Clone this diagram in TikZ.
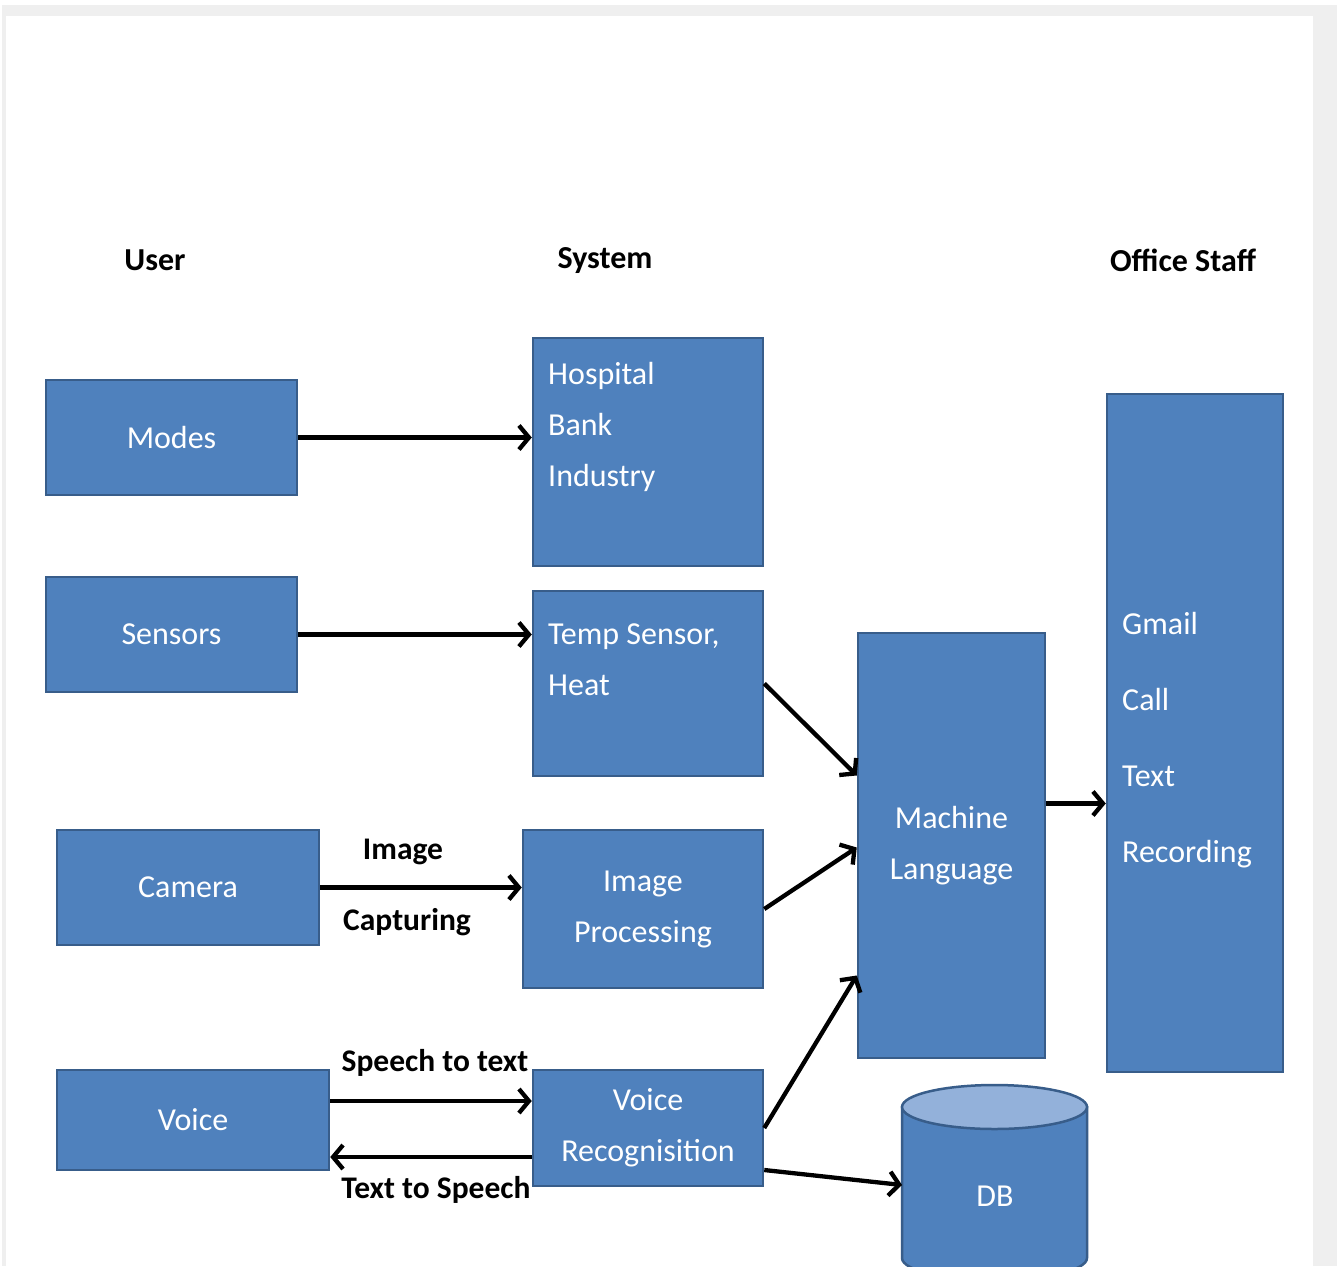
\documentclass[tikz,border=0pt]{standalone}
\usepackage{fontspec}
\setmainfont{Carlito}
\usetikzlibrary{arrows.meta}
\definecolor{boxfill}{HTML}{4F81BD}
\definecolor{boxline}{HTML}{385D8A}
\definecolor{dbtop}{HTML}{93B1DA}
\definecolor{framegray}{HTML}{EFEFEF}
\tikzset{
  blockbox/.style={draw=boxline, fill=boxfill, line width=2.5pt, inner sep=0pt,
    text=white, font=\fontsize{32}{51}\selectfont, align=center},
  boxtext/.style={text=white, font=\fontsize{32}{51}\selectfont, align=left, inner sep=0pt, anchor=west},
  header/.style={font=\fontsize{32}{36}\selectfont\bfseries, text=black, inner sep=0pt},
  edgelabel/.style={font=\fontsize{31.5}{36}\selectfont\bfseries, text=black, inner sep=0pt},
  conn/.style={line width=4.3pt, -{Straight Barb[length=10pt,width=24pt]}}
}
\begin{document}
\begin{tikzpicture}[x=1pt,y=-1pt]
\useasboundingbox (0,0) rectangle (1337,1266);
\clip (0,0) rectangle (1337,1266);
\fill[white] (0,0) rectangle (1337,1266);
\fill[framegray] (2,5) rectangle (1337,1266);
\fill[white] (6,16) rectangle (1313,1266);

% headers
\node[header] (huser) at (155,260) {User};
\node[header] (hsys) at (605,261) {System};
\node[header] (hoff) at (1183,260) {Office Staff};

% user column
\node[blockbox, minimum width=251pt, minimum height=115pt] (modes) at (171.5,437.5) {Modes};
\node[blockbox, minimum width=251pt, minimum height=115pt] (sensors) at (171.5,634.5) {Sensors};
\node[blockbox, minimum width=262pt, minimum height=115pt] (camera) at (188,887.5) {Camera};
\node[blockbox, minimum width=272pt, minimum height=100pt] (voice) at (193,1120) {Voice};

% system column
\node[blockbox, minimum width=230pt, minimum height=228pt] (hosp) at (648,452) {};
\node[boxtext] (hosptext) at (548,427) {Hospital\\Bank\\Industry};
\node[blockbox, minimum width=230pt, minimum height=185pt] (temp) at (648,683.5) {};
\node[boxtext] (temptext) at (548,660) {Temp Sensor,\\Heat};
\node[blockbox, minimum width=240pt, minimum height=158pt] (imgp) at (643,909) {Image\\Processing};
\node[blockbox, minimum width=230pt, minimum height=116pt] (vr) at (648,1128) {Voice\\Recognisition};

% machine language
\node[blockbox, minimum width=187pt, minimum height=425pt] (ml) at (951.5,845.5) {Machine\\Language};

% office staff
\node[blockbox, minimum width=176pt, minimum height=678pt] (office) at (1195,733) {};
\node[boxtext, font=\fontsize{32}{76}\selectfont] (officetext) at (1122,740) {Gmail\\Call\\Text\\Recording};

% DB cylinder
\fill[boxfill, draw=boxline, line width=2.5pt] (902,1107) -- (902,1258) arc (180:360:92.5pt and 22pt) -- (1087,1107) -- cycle;
\draw[boxline, fill=dbtop, line width=2.5pt] (994.5,1107) ellipse [x radius=92.5pt, y radius=22pt];
\node[text=white, font=\fontsize{32}{36}\selectfont, inner sep=0pt] (db) at (995,1196) {DB};
\coordinate (dbin) at (902,1185);

% connectors
\draw[conn] (modes.east) -- (modes.east -| hosp.west);
\draw[conn] (sensors.east) -- (sensors.east -| temp.west);
\draw[conn] (camera.east) -- (camera.east -| imgp.west);
\draw[conn] ([yshift=19pt]voice.east) -- ([yshift=19pt]voice.east -| vr.west);
\draw[conn] ([yshift=-37pt]voice.east -| vr.west) -- ([yshift=-37pt]voice.east);
\draw[conn] (temp.east) -- ([yshift=70pt]ml.west);
\draw[conn] (imgp.east) -- ([yshift=-2pt]ml.west);
\draw[conn] (vr.east) -- ([yshift=-130pt]ml.west);
\draw[conn] ([yshift=-42pt]vr.east) -- (dbin);
\draw[conn] ([yshift=42pt]ml.east) -- ([yshift=42pt]ml.east -| office.west);

% edge labels
\node[edgelabel] (limage) at (403,852) {Image};
\node[edgelabel] (lcapt) at (407,922) {Capturing};
\node[edgelabel] (lstt) at (435,1063) {Speech to text};
\node[edgelabel] (ltts) at (436,1190) {Text to Speech};
\end{tikzpicture}
\end{document}
